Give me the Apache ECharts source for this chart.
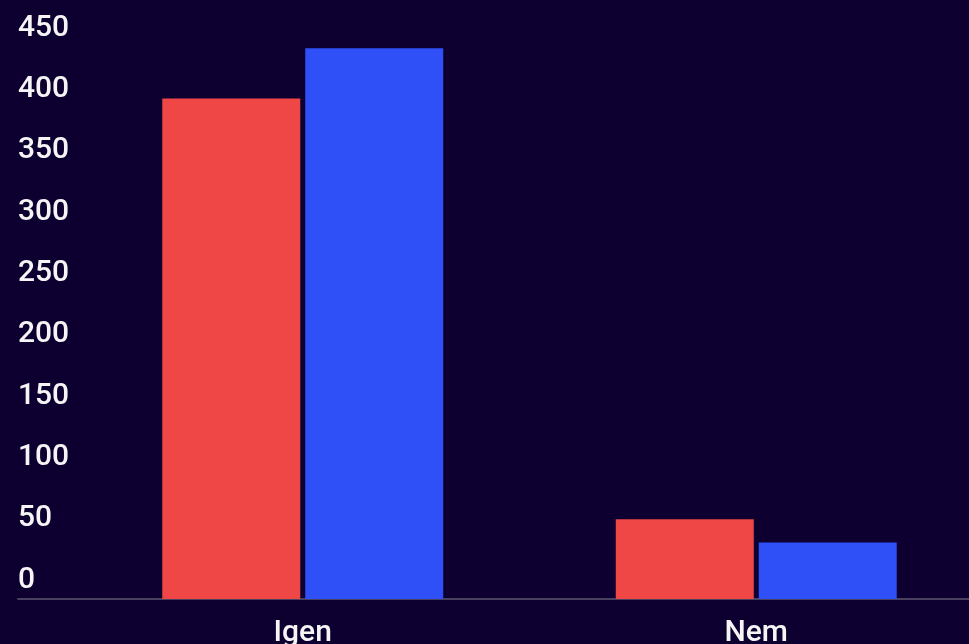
<!DOCTYPE html>
<html>
<head>
<meta charset="utf-8">
<script src="https://cdn.jsdelivr.net/npm/echarts@6/dist/echarts.min.js"></script>
<style>
html,body{margin:0;padding:0;background:#0d0030;}
#c{width:969px;height:644px;}
</style>
</head>
<body>
<div id="c"></div>
<script>
const categories = ["Igen", "Nem"];
const seriesRed = [408, 65];
const seriesBlue = [449, 46];
const yTicks = { min: 0, max: 450, interval: 50 };

const chart = echarts.init(document.getElementById('c'));
chart.setOption({
  backgroundColor: '#0d0030',
  animation: false,
  grid: [
    { left: 18, right: 0, top: 47, bottom: 45, containLabel: false, outerBoundsMode: 'none' },
    { left: 76, width: 907, top: 47, bottom: 45, containLabel: false, outerBoundsMode: 'none' }
  ],
  xAxis: [
    { gridIndex: 0, type: 'value', min: 0, max: 1,
      axisLine: { show: true, onZero: false, lineStyle: { color: '#48415f', width: 2 } },
      axisTick: { show: false }, axisLabel: { show: false }, splitLine: { show: false } },
    { gridIndex: 1, type: 'category', data: categories,
      axisLine: { show: false }, axisTick: { show: false },
      axisLabel: { color: '#f5f5f5', fontSize: 30, fontWeight: 500, fontFamily: 'Roboto', margin: 19 } }
  ],
  yAxis: [
    { gridIndex: 0, type: 'value', min: yTicks.min, max: yTicks.max, interval: yTicks.interval,
      show: false },
    { gridIndex: 1, type: 'value', min: yTicks.min, max: yTicks.max, interval: yTicks.interval,
      axisLine: { show: false }, axisTick: { show: false }, splitLine: { show: false },
      axisLabel: { color: '#f5f5f5', fontSize: 30, fontWeight: 500, fontFamily: 'Roboto', align: 'left',
        margin: 58, verticalAlign: 'bottom', padding: [0, 0, 4, 0] } }
  ],
  series: [
    { type: 'bar', xAxisIndex: 1, yAxisIndex: 1, data: seriesRed, barWidth: 138, barGap: '3.6%',
      itemStyle: { color: '#ef4646' } },
    { type: 'bar', xAxisIndex: 1, yAxisIndex: 1, data: seriesBlue, barWidth: 138, barGap: '3.6%',
      itemStyle: { color: '#2f50f7' } }
  ]
});
</script>
</body>
</html>
